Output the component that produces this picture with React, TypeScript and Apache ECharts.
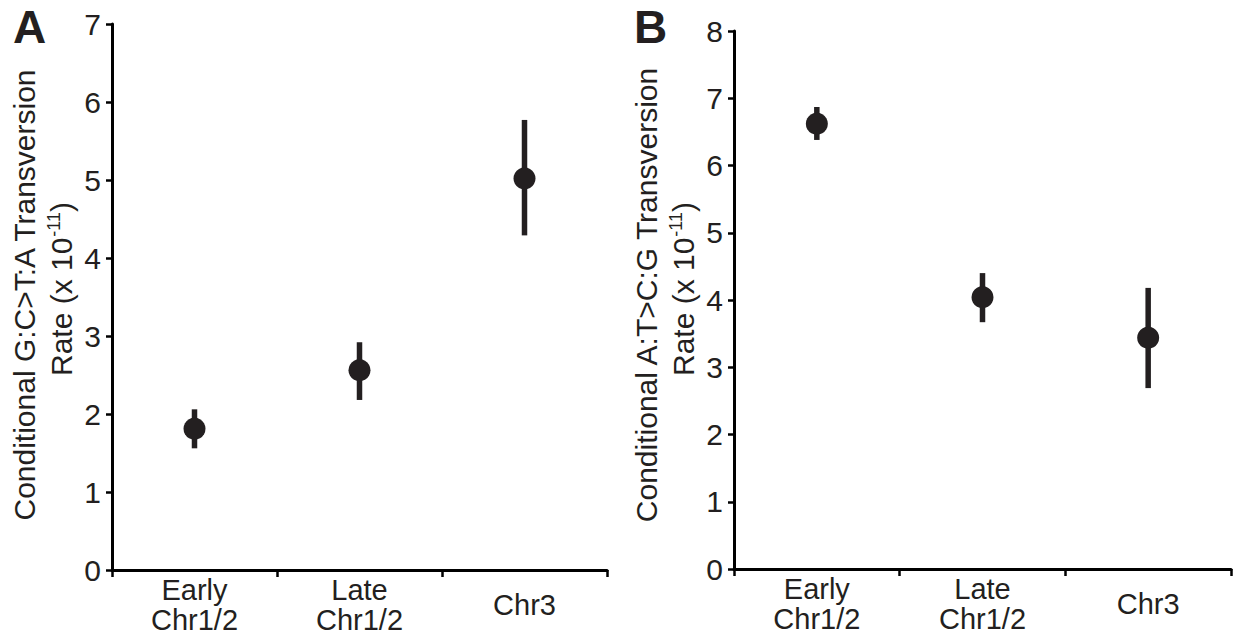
import React, { useEffect, useRef } from "react";
import * as echarts from "echarts";

// Categories shared by both panels
const categories = ["Early\nChr1/2", "Late\nChr1/2", "Chr3"];

// Panel A: conditional G:C>T:A transversion rate (x 10^-11)
const gcMean = [1.81, 2.56, 5.02];
const gcLow = [1.56, 2.18, 4.29];
const gcHigh = [2.06, 2.92, 5.77];

// Panel B: conditional A:T>C:G transversion rate (x 10^-11)
const atMean = [6.62, 4.04, 3.44];
const atLow = [6.38, 3.67, 2.69];
const atHigh = [6.87, 4.40, 4.18];

const yMaxA = 7;
const yMaxB = 8;

const INK = "#231f20";
const FONT = "'Liberation Sans', Arial, Helvetica, sans-serif";

function errorSeries(gridIndex: number, low: number[], high: number[]) {
  return {
    type: "custom",
    xAxisIndex: gridIndex,
    yAxisIndex: gridIndex,
    data: low.map((l, i) => [i, l, high[i]]),
    encode: { x: 0, y: [1, 2] },
    z: 2,
    renderItem: (_params: any, api: any) => {
      const p1 = api.coord([api.value(0), api.value(1)]);
      const p2 = api.coord([api.value(0), api.value(2)]);
      return {
        type: "line",
        shape: { x1: p1[0], y1: p1[1], x2: p2[0], y2: p2[1] },
        style: { stroke: INK, lineWidth: 5.5 },
      };
    },
  };
}

function pointSeries(gridIndex: number, mean: number[]) {
  return {
    type: "scatter",
    xAxisIndex: gridIndex,
    yAxisIndex: gridIndex,
    data: mean.map((m, i) => [i, m]),
    symbol: "circle",
    symbolSize: 22,
    itemStyle: { color: INK, opacity: 1 },
    z: 3,
  };
}

function xAxisFor(gridIndex: number) {
  return {
    type: "category",
    gridIndex,
    data: categories,
    boundaryGap: true,
    axisLine: { show: true, lineStyle: { color: "#000", width: 3 } },
    axisTick: { show: true, length: 7, lineStyle: { color: "#000", width: 2.5 } },
    axisLabel: {
      interval: 0,
      margin: 35,
      verticalAlign: "middle",
      fontSize: 29,
      lineHeight: 30,
      color: INK,
      fontFamily: FONT,
    },
    splitLine: { show: false },
  };
}

function yAxisFor(gridIndex: number, max: number) {
  return {
    type: "value",
    gridIndex,
    min: 0,
    max,
    interval: 1,
    axisLine: { show: true, lineStyle: { color: "#000", width: 3 } },
    axisTick: { show: true, length: 6, lineStyle: { color: "#000", width: 2.5 } },
    axisLabel: {
      margin: 11,
      fontSize: 30,
      color: INK,
      fontFamily: FONT,
    },
    splitLine: { show: false },
  };
}

function titleTexts(cx1: number, cx2: number, cy: number, line1: string) {
  return [
    {
      type: "text",
      x: cx1,
      y: cy,
      rotation: Math.PI / 2,
      style: {
        text: line1,
        fontSize: 30,
        fontFamily: FONT,
        fill: INK,
        align: "center",
        verticalAlign: "middle",
      },
    },
    {
      type: "text",
      x: cx2,
      y: cy - 6,
      rotation: Math.PI / 2,
      style: {
        text: "{t|Rate (x 10}{s|-11}{t|)}",
        fontFamily: FONT,
        fill: INK,
        align: "center",
        verticalAlign: "middle",
        rich: {
          t: { fontSize: 30, lineHeight: 34, fontFamily: FONT, fill: INK },
          s: { fontSize: 18, lineHeight: 34, verticalAlign: "top", fontFamily: FONT, fill: INK, padding: [0, 0, 0, 1] },
        },
      },
    },
  ];
}

export default function App() {
  const ref = useRef<HTMLDivElement>(null);

  useEffect(() => {
    if (!ref.current) return;
    const chart = echarts.init(ref.current, undefined, { renderer: "svg" });
    chart.setOption({
      animation: false,
      backgroundColor: "#fff",
      grid: [
        { left: 112, top: 24, width: 495, height: 546 },
        { left: 734, top: 31, width: 497, height: 538 },
      ],
      xAxis: [xAxisFor(0), xAxisFor(1)],
      yAxis: [yAxisFor(0, yMaxA), yAxisFor(1, yMaxB)],
      series: [
        errorSeries(0, gcLow, gcHigh),
        pointSeries(0, gcMean),
        errorSeries(1, atLow, atHigh),
        pointSeries(1, atMean),
      ],
      graphic: [
        {
          type: "text",
          x: 13,
          y: 26.5,
          style: {
            text: "A",
            fontSize: 46,
            fontWeight: "bold",
            fontFamily: FONT,
            fill: INK,
            align: "left",
            verticalAlign: "middle",
          },
        },
        {
          type: "text",
          x: 634,
          y: 26.5,
          style: {
            text: "B",
            fontSize: 46,
            fontWeight: "bold",
            fontFamily: FONT,
            fill: INK,
            align: "left",
            verticalAlign: "middle",
          },
        },
        ...titleTexts(24.5, 61.5, 295, "Conditional G:C>T:A Transversion"),
        ...titleTexts(646.5, 683.5, 295, "Conditional A:T>C:G Transversion"),
      ],
    });
    return () => chart.dispose();
  }, []);

  return (
    <div
      ref={ref}
      style={{ position: "fixed", left: 0, top: 0, width: 1233, height: 640 }}
    />
  );
}
